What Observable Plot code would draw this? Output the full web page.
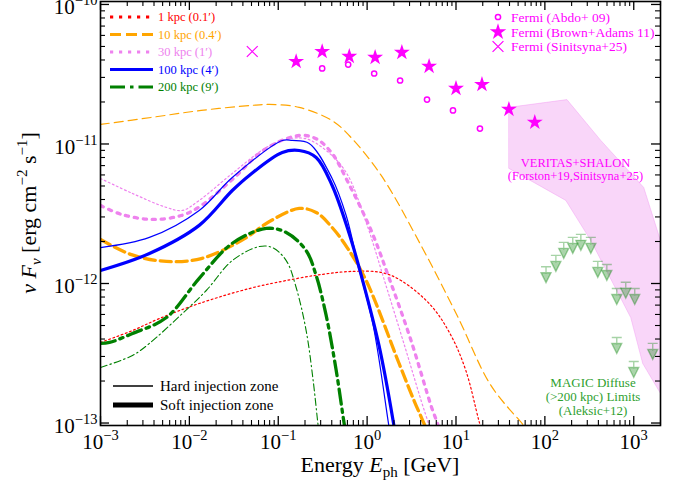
<!DOCTYPE html>
<html><head><meta charset="utf-8">
<script src="https://cdn.jsdelivr.net/npm/d3@7"></script>
<script src="https://cdn.jsdelivr.net/npm/@observablehq/plot@0.6"></script>
<style>body{margin:0;background:#fff}</style>
</head><body><div id="chart"></div>
<script>
const FONT = "'Liberation Serif', 'DejaVu Serif', serif";
// axis ticks
const xMajor = [1e-3, 1e-2, 1e-1, 1, 10, 100, 1000];
const yMajor = [1e-13, 1e-12, 1e-11, 1e-10];
// legend labels
const distances = ["1 kpc (0.1′)", "10 kpc (0.4′)", "30 kpc (1′)", "100 kpc (4′)", "200 kpc (9′)"];
const distColors = ["red", "orange", "violet", "blue", "green"];
const fermiLabels = ["Fermi (Abdo+ 09)", "Fermi (Brown+Adams 11)", "Fermi (Sinitsyna+25)"];
const zoneLabels = ["Hard injection zone", "Soft injection zone"];

// model curves [E (GeV), nuFnu (erg cm^-2 s^-1)]
const hard1kpc = [[1e-3,3.78e-13],[2.29e-3,4.6e-13],[4.6e-3,5.61e-13],[1.29e-2,7.19e-13],[4.72e-2,9.2e-13],[0.123,1.05e-12],[0.304,1.16e-12],[0.661,1.22e-12],[1.44,1.2e-12],[2.41,1.05e-12],[5.24,6.95e-13],[8.79,4.24e-13],[12.9,2.38e-13],[18.1,1.04e-13],[21.7,6.9e-14]];
const hard10kpc = [[1e-3,1.38e-11],[3.74e-3,1.55e-11],[1.36e-2,1.74e-11],[4.98e-2,1.89e-11],[7.93e-2,1.92e-11],[0.172,1.83e-11],[0.404,1.47e-11],[0.628,1.15e-11],[1.44,5.95e-12],[4.05,1.87e-12],[10.3,5.9e-13],[24.7,1.86e-13],[58,9.6e-14],[90,6.9e-14]];
const soft10kpc = [[1e-3,2.07e-12],[2.23e-3,1.61e-12],[5.52e-3,1.44e-12],[1.36e-2,1.51e-12],[3.84e-2,2.03e-12],[8.34e-2,2.83e-12],[0.172,3.45e-12],[0.267,3.23e-12],[0.404,2.52e-12],[0.596,1.81e-12],[0.975,1.05e-12],[2.29,2.67e-13],[3.37,1.45e-13],[4.37,9.9e-14],[5.24,7.5e-14]];
const hard30kpc = [[1e-3,5.66e-12],[2.29e-3,4.42e-12],[5.52e-3,3.51e-12],[8.34e-3,3.34e-12],[1.29e-2,3.94e-12],[3.04e-2,6.15e-12],[7.33e-2,9.44e-12],[0.123,1.08e-11],[0.206,1.09e-11],[0.346,8.98e-12],[0.581,6.25e-12],[0.975,2.74e-12],[1.63,9.68e-13],[2.74,3.31e-13],[4.05,1.45e-13],[4.98,9.6e-14],[5.52,7.5e-14]];
const soft30kpc = [[1e-3,3.62e-12],[1.72e-3,3.13e-12],[3.74e-3,2.88e-12],[8.13e-3,3.07e-12],[1.36e-2,3.62e-12],[3.04e-2,5.57e-12],[7.33e-2,9.29e-12],[0.172,1.15e-11],[0.267,1.09e-11],[0.404,8.55e-12],[0.596,5.47e-12],[1.11,2.4e-12],[1.77,1.09e-12],[3.12,3.9e-13],[5.24,1.33e-13],[6.28,9.6e-14],[6.78,7.5e-14]];
const hard100kpc = [[1e-3,1.81e-12],[3.55e-3,2.14e-12],[1.29e-2,3.34e-12],[3.04e-2,5.75e-12],[0.111,1.06e-11],[0.144,1.06e-11],[0.223,1.01e-11],[0.404,5.66e-12],[0.581,3.07e-12],[0.793,1.35e-12],[1.17,5.0e-13],[1.72,1.04e-13],[1.86,7.5e-14]];
const soft100kpc = [[1e-3,1.24e-12],[3.55e-3,1.64e-12],[1.29e-2,2.61e-12],[3.04e-2,4.64e-12],[4.72e-2,5.95e-12],[0.111,8.69e-12],[0.172,8.98e-12],[0.267,8.0e-12],[0.404,5.04e-12],[0.628,2.28e-12],[0.902,1.02e-12],[1.36,3.6e-13],[1.96,1.04e-13],[2.12,7.5e-14]];
const hard200kpc = [[1e-3,2.5e-13],[2.29e-3,3.05e-13],[3.55e-3,3.72e-13],[8.34e-3,6.09e-13],[1.55e-2,8.91e-13],[3.04e-2,1.46e-12],[6.12e-2,1.84e-12],[8.57e-2,1.81e-12],[0.123,1.46e-12],[0.159,9.36e-13],[0.206,4.6e-13],[0.247,2.02e-13],[0.281,9.6e-14],[0.296,7.5e-14]];
const soft200kpc = [[1e-3,3.72e-13],[1.262e-3,3.78e-13],[2.29e-3,4.38e-13],[5.52e-3,5.7e-13],[1.29e-2,1.09e-12],[3.04e-2,1.94e-12],[7.33e-2,2.48e-12],[0.123,2.32e-12],[0.206,1.72e-12],[0.267,1.14e-12],[0.346,5.9e-13],[0.449,2.38e-13],[0.552,9.9e-14],[0.596,7.5e-14]];

// Fermi points
const abdoE = [0.312, 0.612, 1.2, 2.35, 4.72, 9.25, 18.6];
const abdoF = [3.48e-11, 3.71e-11, 3.2e-11, 2.85e-11, 2.08e-11, 1.74e-11, 1.29e-11];
const brownE = [0.159, 0.312, 0.63, 1.23, 2.46, 4.98, 10, 19.6, 39.4, 77];
const brownF = [3.9e-11, 4.6e-11, 4.24e-11, 4.17e-11, 4.53e-11, 3.6e-11, 2.5e-11, 2.67e-11, 1.77e-11, 1.43e-11];
const sinE = [0.051];
const sinF = [4.6e-11];
// MAGIC upper limits
const magicE = [103, 133, 163, 206, 254, 329, 394, 498, 644, 813, 1026, 644, 1000, 1635];
const magicF = [1.32e-12, 1.59e-12, 1.97e-12, 2.14e-12, 2.25e-12, 2.14e-12, 1.44e-12, 1.37e-12, 9.2e-13, 1.02e-12, 9.2e-13, 4.1e-13, 2.76e-13, 3.72e-13];
// VERITAS+SHALON band outline
const bandE = [39.4, 177, 426, 1295, 2000, 2000, 1262, 925, 329, 172, 39.4];
const bandF = [1.83e-11, 2.08e-11, 1.06e-11, 4.88e-12, 2.03e-12, 1.63e-13, 2.67e-13, 5.7e-13, 2.03e-12, 3.94e-12, 6.68e-12];

const zip = (a, b) => a.map((v, i) => [v, b[i]]);
const xMinor = [], yMinor = [];
for (const d of xMajor) for (let m = 2; m <= 9; m++) if (m * d <= 2000) xMinor.push(m * d);
for (const d of [1e-14, 1e-13, 1e-12, 1e-11]) for (let m = 2; m <= 9; m++) { const v = m * d; if (v >= 9.6e-14 && v <= 1.05e-10) yMinor.push(v); }

const dash = {
  dotThin: "1.8,2.6", dotThick: "3.2,5.8",
  dashThin: "9,5", dashThick: "11,5",
  solid: null,
  ddThin: "7,3,1.5,3", ddThick: "15,5,3.5,5"
};
const series = [
  {d: hard1kpc, c: "red", w: 1.2, a: dash.dotThin},
  {d: hard10kpc, c: "orange", w: 1.2, a: dash.dashThin},
  {d: soft10kpc, c: "orange", w: 3.3, a: dash.dashThick},
  {d: hard30kpc, c: "violet", w: 1.2, a: dash.dotThin},
  {d: soft30kpc, c: "violet", w: 3.3, a: dash.dotThick},
  {d: hard200kpc, c: "green", w: 1.1, a: dash.ddThin},
  {d: soft200kpc, c: "green", w: 3.3, a: dash.ddThick},
  {d: hard100kpc, c: "blue", w: 1.2, a: dash.solid},
  {d: soft100kpc, c: "blue", w: 3.2, a: dash.solid}
];
const legendDash = [dash.dotThick, dash.dashThick, dash.dotThick, null, dash.ddThick];

const ulSymbol = {draw(ctx) {
  ctx.moveTo(-5, 0); ctx.lineTo(5, 0);
  ctx.moveTo(0, 0); ctx.lineTo(0, 7);
  ctx.moveTo(-5, 6); ctx.lineTo(5, 6); ctx.lineTo(0, 16); ctx.closePath();
}};

const PH = 487 - 1 - 62, PW = 686 - 100 - 26;

const chart = Plot.plot({
  width: 686, height: 487,
  marginLeft: 100, marginRight: 26, marginTop: 1, marginBottom: 62,
  x: {type: "log", domain: [1e-3, 2000]},
  y: {type: "log", domain: [9.6e-14, 1.05e-10]},
  style: {fontFamily: FONT, background: "white", color: "black"},
  marks: [
    Plot.line(zip(bandE, bandF), {x: d => d[0], y: d => d[1], curve: "linear-closed", fill: "violet", fillOpacity: 0.33, stroke: "violet", strokeOpacity: 0.35, strokeWidth: 1, clip: true}),
    ...series.map(s => Plot.line(s.d, {x: d => d[0], y: d => d[1], stroke: s.c, strokeWidth: s.w, strokeDasharray: s.a, curve: "catmull-rom", clip: true})),
    Plot.dot(zip(magicE, magicF), {x: d => d[0], y: d => d[1], symbol: ulSymbol, r: 5, fill: "green", fillOpacity: 0.33, stroke: "green", strokeOpacity: 0.35, strokeWidth: 1.4}),
    Plot.dot(zip(abdoE, abdoF), {x: d => d[0], y: d => d[1], r: 2.6, stroke: "magenta", strokeWidth: 1.5, fill: "white"}),
    Plot.dot(zip(brownE, brownF), {x: d => d[0], y: d => d[1], symbol: "star", r: 5, fill: "magenta", stroke: "none"}),
    Plot.dot(zip(sinE, sinF), {x: d => d[0], y: d => d[1], symbol: "times", r: 5, stroke: "magenta", strokeWidth: 1.2}),
    Plot.text(["VERITAS+SHALON\n(Forston+19,Sinitsyna+25)"], {x: () => 221, y: () => 6.62e-12, text: d => d, fill: "magenta", fontSize: 12.5, lineHeight: 1.05}),
    Plot.text(["MAGIC Diffuse\n(>200 kpc) Limits\n(Aleksic+12)"], {x: () => 348, y: () => 1.55e-13, text: d => d, fill: "#2f9f2f", fontSize: 13, lineHeight: 1.08}),
    // inward ticks
    Plot.ruleX(xMajor, {x: d => d, insetTop: PH - 9, strokeWidth: 1.3}),
    Plot.ruleX(xMajor, {x: d => d, insetBottom: PH - 9, strokeWidth: 1.3}),
    Plot.ruleX(xMinor, {x: d => d, insetTop: PH - 5, strokeWidth: 1.1}),
    Plot.ruleX(xMinor, {x: d => d, insetBottom: PH - 5, strokeWidth: 1.1}),
    Plot.ruleY(yMajor, {y: d => d, insetRight: PW - 9, strokeWidth: 1.3}),
    Plot.ruleY(yMajor, {y: d => d, insetLeft: PW - 9, strokeWidth: 1.3}),
    Plot.ruleY(yMinor, {y: d => d, insetRight: PW - 5, strokeWidth: 1.1}),
    Plot.ruleY(yMinor, {y: d => d, insetLeft: PW - 5, strokeWidth: 1.1}),
    Plot.axisX(xMajor, {tickSize: 0, tickPadding: 9, fontSize: 21, label: null, tickFormat: d => "10^" + Math.round(Math.log10(d))}),
    Plot.axisY(yMajor, {tickSize: 0, tickPadding: 3, fontSize: 21, dy: 3, label: null, tickFormat: d => "10^" + Math.round(Math.log10(d))}),
    Plot.frame({strokeWidth: 1.6})
  ]
});

const svg = d3.select(chart);
// superscript tick labels
svg.selectAll("text").each(function () {
  const m = (this.textContent || "").match(/^10\^(-?\d+)$/);
  if (m) {
    const el = d3.select(this);
    el.text("10");
    el.append("tspan").attr("dy", -9).attr("font-size", 14.5).text(m[1].replace("-", "−"));
  }
});

const g = svg.append("g").attr("font-family", FONT).attr("text-anchor", "start");
// distance legend
distances.forEach((name, i) => {
  const y = 17 + i * 17.5;
  g.append("line").attr("x1", 110).attr("x2", 153).attr("y1", y).attr("y2", y)
    .attr("stroke", distColors[i]).attr("stroke-width", 3.2).attr("stroke-dasharray", legendDash[i]);
  g.append("text").attr("x", 158).attr("y", y).attr("dy", "0.35em").attr("fill", distColors[i]).attr("font-size", 12.5).text(name);
});
// Fermi legend
const fermiSym = [d3.symbol(d3.symbolCircle, Math.PI * 2.6 * 2.6)(), d3.symbol(d3.symbolStar, Math.PI * 5.2 * 5.2)(), d3.symbol(d3.symbolTimes, Math.PI * 5 * 5)()];
const fermiY = [17, 32, 46.5];
fermiLabels.forEach((name, i) => {
  const p = g.append("path").attr("d", fermiSym[i]).attr("transform", `translate(498,${fermiY[i]})`);
  if (i === 0) p.attr("fill", "white").attr("stroke", "magenta").attr("stroke-width", 1.5);
  else if (i === 1) p.attr("fill", "magenta");
  else p.attr("fill", "none").attr("stroke", "magenta").attr("stroke-width", 1.2);
  g.append("text").attr("x", 511).attr("y", fermiY[i]).attr("dy", "0.35em").attr("fill", "magenta").attr("font-size", 13.5).text(name);
});
// zone legend
zoneLabels.forEach((name, i) => {
  const y = 386 + i * 19;
  g.append("line").attr("x1", 113).attr("x2", 153).attr("y1", y).attr("y2", y).attr("stroke", "black").attr("stroke-width", i ? 5 : 1.3);
  g.append("text").attr("x", 160).attr("y", y).attr("dy", "0.35em").attr("font-size", 15).text(name);
});
// axis labels
const xl = g.append("text").attr("x", 380).attr("y", 472).attr("text-anchor", "middle").attr("font-size", 22);
xl.append("tspan").text("Energy ");
xl.append("tspan").attr("font-style", "italic").text("E");
xl.append("tspan").attr("font-size", 15).attr("dy", 5).text("ph");
xl.append("tspan").attr("dy", -5).text(" [GeV]");
const yl = g.append("text").attr("transform", "translate(36,213) rotate(-90)").attr("text-anchor", "middle").attr("font-size", 22);
yl.append("tspan").attr("font-style", "italic").text("ν F");
yl.append("tspan").attr("font-style", "italic").attr("font-size", 15).attr("dy", 5).text("ν");
yl.append("tspan").attr("dy", -5).text(" [erg cm");
yl.append("tspan").attr("font-size", 15).attr("dy", -9).text("−2");
yl.append("tspan").attr("dy", 9).text(" s");
yl.append("tspan").attr("font-size", 15).attr("dy", -9).text("−1");
yl.append("tspan").attr("dy", 9).text("]");

document.getElementById("chart").appendChild(chart);
</script>
</body></html>
